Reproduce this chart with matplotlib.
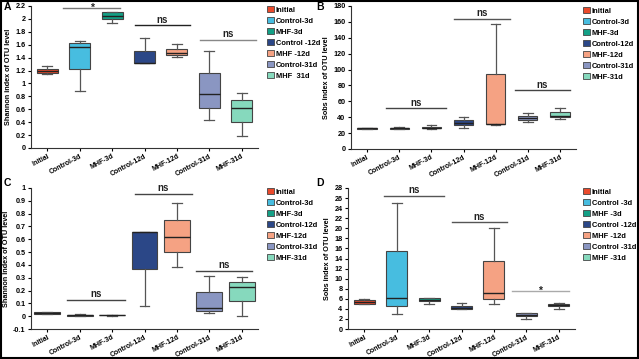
import numpy as np
import matplotlib.pyplot as plt
from matplotlib.patches import Patch, Rectangle

plt.rcParams['font.family'] = ['Liberation Sans', 'DejaVu Sans']
plt.rcParams['font.weight'] = 'bold'

groups = ['Initial', 'Control-3d', 'MHF-3d', 'Control-12d', 'MHF-12d', 'Control-31d', 'MHF-31d']
colors = ['#ea4a2c', '#47bde0', '#13a086', '#2b4787', '#f5a283', '#8a96c2', '#86d9bd']

# box stats per group: whisker low, q1, median, q3, whisker high
shannon_a = [
    [1.15, 1.16, 1.19, 1.22, 1.27],
    [0.88, 1.22, 1.57, 1.62, 1.66],
    [1.94, 2.00, 2.05, 2.10, 2.10],
    [1.31, 1.31, 1.32, 1.51, 1.71],
    [1.41, 1.44, 1.47, 1.53, 1.61],
    [0.43, 0.62, 0.83, 1.16, 1.50],
    [0.19, 0.41, 0.62, 0.74, 0.85],
]
sobs_b = [
    [25, 25.5, 26, 26.5, 27],
    [25, 25.5, 26.5, 27, 28],
    [25, 26, 27, 28, 30],
    [27, 30, 33, 36, 40],
    [30, 31, 32, 95, 157],
    [34, 36, 39, 42, 45],
    [38, 40, 42, 47, 51],
]
shannon_c = [
    [0.015, 0.02, 0.025, 0.03, 0.035],
    [0.0, 0.005, 0.01, 0.012, 0.015],
    [0.005, 0.007, 0.008, 0.009, 0.01],
    [0.08, 0.37, 0.655, 0.66, 0.66],
    [0.385, 0.50, 0.615, 0.75, 0.885],
    [0.025, 0.04, 0.06, 0.19, 0.315],
    [0.005, 0.115, 0.23, 0.265, 0.305],
]
sobs_d = [
    [5, 5, 5.3, 5.7, 6],
    [3, 4.5, 6.2, 15.5, 25],
    [5, 5.5, 5.8, 6.1, 6.1],
    [4, 4, 4.2, 4.6, 5.1],
    [5, 6, 7.1, 13.6, 20],
    [2, 2.5, 2.7, 3.1, 3.1],
    [4, 4.5, 4.8, 5.0, 5.1],
]

legend_a = ['Initial', 'Control-3d', 'MHF-3d', 'Control -12d', 'MHF -12d', 'Control-31d', 'MHF  31d']
legend_b = ['Initial', 'Control-3d', 'MHF-3d', 'Control-12d', 'MHF-12d', 'Control-31d', 'MHF-31d']
legend_c = ['Initial', 'Control-3d', 'MHF-3d', 'Control-12d', 'MHF-12d', 'Control-31d', 'MHF-31d']
legend_d = ['Initial', 'Control -3d', 'MHF -3d', 'Control -12d', 'MHF -12d', 'Control -31d', 'MHF -31d']

# significance bars: x start, x end, y, label, colour
sig_a = [(0.5, 2.25, 2.17, '*', '#777777'), (2.7, 4.4, 1.90, 'ns', '#222222'), (4.7, 6.45, 1.68, 'ns', '#888888')]
sig_b = [(0.6, 2.45, 51, 'ns', '#444444'), (2.7, 4.45, 164, 'ns', '#555555'), (4.6, 6.3, 74, 'ns', '#444444')]
sig_c = [(0.6, 2.4, 0.13, 'ns', '#444444'), (2.7, 4.45, 0.955, 'ns', '#444444'), (4.6, 6.3, 0.355, 'ns', '#444444')]
sig_d = [(0.6, 2.45, 26.5, 'ns', '#555555'), (2.7, 4.4, 21.2, 'ns', '#555555'), (4.55, 6.3, 7.5, '*', '#aaaaaa')]


def draw_panel(fig, rect, data, ylim, yticks, ylabel, legend_labels, sigs, letter, letter_xy, leg_xy, width=0.65):
    ax = fig.add_axes(rect)
    stats = []
    for g, d in zip(groups, data):
        stats.append(dict(label=g, whislo=d[0], q1=d[1], med=d[2], q3=d[3], whishi=d[4], fliers=[]))
    bp = ax.bxp(stats, positions=range(len(groups)), widths=width, patch_artist=True,
                showfliers=False,
                boxprops=dict(edgecolor='#444444', linewidth=0.8),
                medianprops=dict(color='#222222', linewidth=1.0),
                whiskerprops=dict(color='#555555', linewidth=0.9),
                capprops=dict(color='#555555', linewidth=0.9), capwidths=0.3)
    for patch, c in zip(bp['boxes'], colors):
        patch.set_facecolor(c)
    ax.set_xlim(-0.5, 6.5)
    ax.set_ylim(*ylim)
    ax.set_yticks(yticks)
    ax.set_yticklabels([('%g' % t) for t in yticks], fontsize=5.2, fontweight='bold')
    ax.set_xticks(range(len(groups)))
    ax.set_xticklabels(groups, rotation=28, ha='right', rotation_mode='anchor', fontsize=5.0, fontweight='bold')
    ax.tick_params(axis='both', length=2.5, width=0.8, pad=1.5)
    ax.tick_params(axis='x', pad=1)
    ax.set_ylabel(ylabel, fontsize=5.2, fontweight='bold', labelpad=2)
    for s in ['top', 'right']:
        ax.spines[s].set_visible(False)
    for s in ['left', 'bottom']:
        ax.spines[s].set_linewidth(0.8)
        ax.spines[s].set_color('#333333')
    for x0, x1, y, txt, c in sigs:
        ax.plot([x0, x1], [y, y], color=c, linewidth=1.0, clip_on=False)
        if txt == 'ns':
            ax.annotate(txt, ((x0 + x1) / 2, y), xytext=(0, 0.5), textcoords='offset points',
                        ha='center', va='bottom', fontsize=7, fontweight='bold', color='#222222')
        else:
            ax.annotate(txt, ((x0 + x1) / 2, y), xytext=(0, -3.2), textcoords='offset points',
                        ha='center', va='bottom', fontsize=7.5, fontweight='bold', color='#222222')
    handles = [Patch(facecolor=c, edgecolor='#444444', linewidth=0.6) for c in colors]
    fig.legend(handles, legend_labels, loc='upper left', bbox_to_anchor=leg_xy, frameon=False,
               prop=dict(size=5.4, weight='bold'), handlelength=0.9, handleheight=0.95,
               handletextpad=0.3, labelspacing=0.42, borderaxespad=0, borderpad=0)
    fig.text(letter_xy[0], letter_xy[1], letter, fontsize=7.5, fontweight='bold', va='top', ha='left')
    return ax


fig = plt.figure(figsize=(6.39, 3.59), dpi=100)
W, H = 639.0, 359.0

def r(x0, x1, ytop, ybot):
    return [x0 / W, 1 - ybot / H, (x1 - x0) / W, (ybot - ytop) / H]

draw_panel(fig, r(31, 258, 6, 148), shannon_a, (0, 2.2), np.round(np.arange(0, 2.21, 0.2), 1),
           'Shannon index of OTU level', legend_a, sig_a, 'A', (4 / W, 1 - 2 / H), (267 / W, 1 - 6 / H))
draw_panel(fig, r(351, 576, 6, 149), sobs_b, (0, 180), np.arange(0, 181, 20),
           'Sobs index of OTU level', legend_b, sig_b, 'B', (316 / W, 1 - 2 / H), (583 / W, 1 - 7 / H), width=0.6)
draw_panel(fig, r(31, 258, 188, 329), shannon_c, (-0.1, 1.0), np.round(np.arange(-0.1, 1.01, 0.1), 1),
           'Shannon index of OTU level', legend_c, sig_c, 'C', (4 / W, 1 - 178 / H), (267 / W, 1 - 188 / H), width=0.8)
draw_panel(fig, r(348, 575, 188, 329), sobs_d, (0, 28), np.arange(0, 29, 2),
           'Sobs index of OTU level', legend_d, sig_d, 'D', (316 / W, 1 - 178 / H), (583 / W, 1 - 188 / H))

fig.patches.append(Rectangle((0.002, 0.003), 0.996, 0.994, transform=fig.transFigure,
                             fill=False, edgecolor='black', linewidth=1.5))

fig.savefig('out.png', dpi=100)
